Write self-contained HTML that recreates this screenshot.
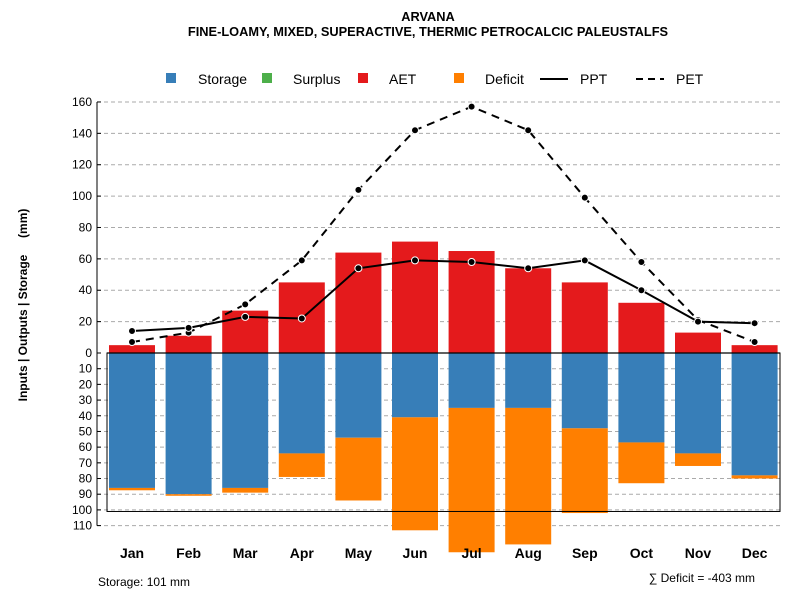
<!DOCTYPE html>
<html><head><meta charset="utf-8"><style>
body{margin:0;background:#fff;font-family:"Liberation Sans",sans-serif}
svg text{font-family:"Liberation Sans",sans-serif}
</style></head><body>
<svg id="c" width="800" height="600" xmlns="http://www.w3.org/2000/svg">
<text x="428" y="21" text-anchor="middle" font-size="12.8" font-weight="bold">ARVANA</text>
<text x="428" y="36" text-anchor="middle" font-size="12.8" font-weight="bold">FINE-LOAMY, MIXED, SUPERACTIVE, THERMIC PETROCALCIC PALEUSTALFS</text>
<text transform="translate(27,305) rotate(-90)" text-anchor="middle" font-size="12" font-weight="bold" style="white-space:pre">Inputs | Outputs | Storage     (mm)</text>
<g id="grid"></g><g id="bars"></g><g id="lines"></g><g id="axes"></g>
<g id="legend">
<rect x="166" y="73" width="10" height="10" fill="#377eb8"/><text x="198" y="84" font-size="14">Storage</text>
<rect x="262" y="73" width="10" height="10" fill="#4daf4a"/><text x="293" y="84" font-size="14">Surplus</text>
<rect x="358" y="73" width="10" height="10" fill="#e41a1c"/><text x="389" y="84" font-size="14">AET</text>
<rect x="454" y="73" width="10" height="10" fill="#ff7f00"/><text x="485" y="84" font-size="14">Deficit</text>
<line x1="540" y1="79" x2="568" y2="79" stroke="#000" stroke-width="2"/><text x="580" y="84" font-size="14">PPT</text>
<line x1="636" y1="79" x2="664" y2="79" stroke="#000" stroke-width="2" stroke-dasharray="7,5"/><text x="676" y="84" font-size="14">PET</text>
</g>
<text x="98" y="586" font-size="12">Storage: 101 mm</text>
<text x="755" y="582" text-anchor="end" font-size="12">∑ Deficit = -403 mm</text>
</svg>
<script>
const months=["Jan","Feb","Mar","Apr","May","Jun","Jul","Aug","Sep","Oct","Nov","Dec"];
const aet=[5,11,27,45,64,71,65,54,45,32,13,5];
const storage=[86,90,86,64,54,41,35,35,48,57,64,78];
const deficit=[1.5,1,3,15,40,72,92,87,54,26,8,2];
const ppt=[14,16,23,22,54,59,58,54,59,40,20,19];
const pet=[7,13,31,59,104,142,157,142,99,58,21,7];
const upTicks=[0,20,40,60,80,100,120,140,160];
const downTicks=[10,20,30,40,50,60,70,80,90,100,110];
const storageCap=101;
const NS="http://www.w3.org/2000/svg";
const y0=353,k=1.569;
const yUp=v=>y0-v*k, yDn=v=>y0+v*k;
const xC=i=>132+i*56.6;
function mk(p,t,a){const e=document.createElementNS(NS,t);for(const n in a)e.setAttribute(n,a[n]);document.getElementById(p).appendChild(e);return e;}
upTicks.forEach(v=>{if(v>0){const g=mk('grid','line',{x1:97,x2:782,y1:yUp(v),y2:yUp(v),stroke:'#aaa','stroke-dasharray':'4,3'});

}
const t=mk('axes','text',{x:92,y:yUp(v)+4,'text-anchor':'end','font-size':12});t.textContent=v;


mk('axes','line',{x1:97,x2:101,y1:yUp(v),y2:yUp(v),stroke:'#000'});});
downTicks.forEach(v=>{const g=mk('grid','line',{x1:97,x2:782,y1:yDn(v),y2:yDn(v),stroke:'#aaa','stroke-dasharray':'4,3'});


const t=mk('axes','text',{x:92,y:yDn(v)+4,'text-anchor':'end','font-size':12});t.textContent=v;


mk('axes','line',{x1:97,x2:101,y1:yDn(v),y2:yDn(v),stroke:'#000'});});
mk('axes','line',{x1:97,x2:97,y1:yUp(160),y2:yDn(110),stroke:'#000'});
const bw=46;
months.forEach((m,i)=>{const x=xC(i)-bw/2;
let r=mk('bars','rect',{x:x,y:yUp(aet[i]),width:bw,height:aet[i]*k,fill:'#e41a1c'});


r=mk('bars','rect',{x:x,y:y0,width:bw,height:storage[i]*k,fill:'#377eb8'});


r=mk('bars','rect',{x:x,y:yDn(storage[i]),width:bw,height:deficit[i]*k,fill:'#ff7f00'});


const t=mk('axes','text',{x:xC(i),y:558,'text-anchor':'middle','font-size':14,'font-weight':'bold'});t.textContent=m;

});
const box=mk('bars','rect',{x:107,y:y0,width:673,height:storageCap*k,fill:'none',stroke:'#000'});


mk('bars','line',{x1:107,x2:780,y1:y0,y2:y0,stroke:'#000','stroke-width':1.2});
function series(arr,dash,name){const p=mk('lines','polyline',{points:arr.map((v,i)=>xC(i)+','+yUp(v)).join(' '),fill:'none',stroke:'#000','stroke-width':2,'stroke-dasharray':dash});


arr.forEach((v,i)=>{const c=mk('lines','circle',{cx:xC(i),cy:yUp(v),r:3.5,fill:'#000',stroke:'#fff','stroke-width':1});

});}
series(pet,'8,6','pet');series(ppt,'none','ppt');
</script>
</body></html>
